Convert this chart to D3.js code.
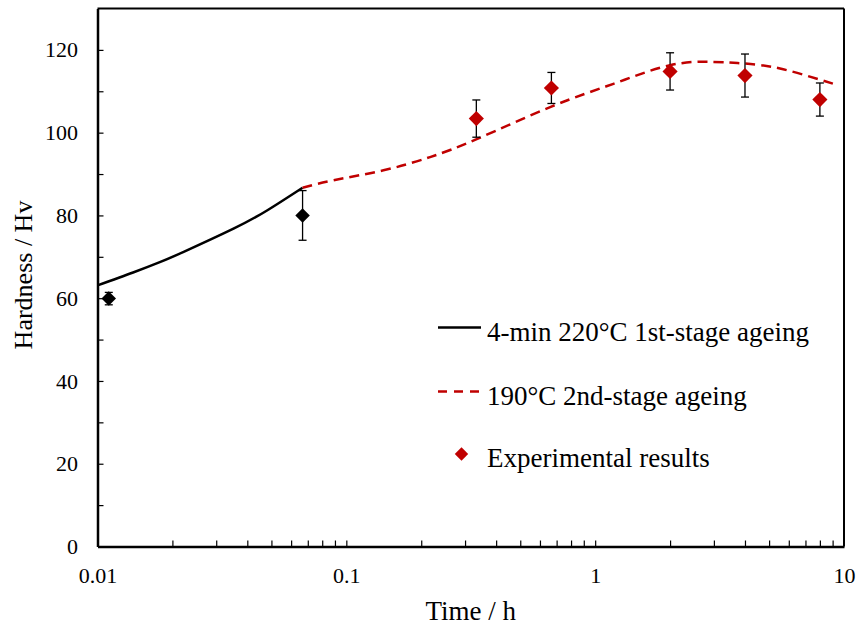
<!DOCTYPE html>
<html>
<head>
<meta charset="utf-8">
<script src="https://cdn.jsdelivr.net/npm/d3@7"></script>
<style>
  html, body { margin: 0; padding: 0; background: #fff; }
  svg { display: block; }
  svg text { font-family: "Liberation Serif" !important; fill: #000; }
</style>
</head>
<body>
<svg id="chart" width="858" height="625"></svg>
<script>
// ---- data ----
const stage1Time = [0.01, 0.0139, 0.0178, 0.0222, 0.0352, 0.048, 0.0667];
const stage1Hv   = [63.1, 66.2, 68.7, 71.2, 76.8, 81.2, 86.7];

const stage2Time = [0.0667, 0.0889, 0.141, 0.217, 0.336, 0.667, 1.184, 2, 2.99, 4, 5.53, 8, 9.06];
const stage2Hv   = [86.7, 88.5, 90.9, 94.1, 98.5, 106.3, 111.8, 116.3, 117.1, 116.7, 115.5, 112.8, 111.8];

const expBlackTime = [0.0111, 0.0667];
const expBlackHv   = [59.9, 80.0];
const expBlackErr  = [1.5, 6.0];

const expRedTime = [0.333, 0.667, 2, 4, 8];
const expRedHv   = [103.4, 110.8, 114.8, 113.8, 108.0];
const expRedErr  = [4.5, 3.75, 4.5, 5.2, 4.0];

const xTickLabels = ["0.01", "0.1", "1", "10"];
const yTickLabels = ["0", "20", "40", "60", "80", "100", "120"];

const legendLabels = ["4-min 220°C 1st-stage ageing", "190°C 2nd-stage ageing", "Experimental results"];

// ---- layout ----
const svg = d3.select("#chart");
const L = 97.5, R = 844, T = 8.5, B = 546.5;
const RED = "#C00000";

const x = d3.scaleLog().domain([0.01, 10]).range([L, R]);
const y = d3.scaleLinear().domain([0, 130]).range([B, T]);

svg.append("rect").attr("width", 858).attr("height", 625).attr("fill", "#fff");

// x axis ticks (1..9 per decade)
const xTicks = [];
[0.01, 0.1, 1].forEach(d => { for (let k = 1; k <= 9; k++) xTicks.push(+(d * k).toPrecision(3)); });
xTicks.push(10);
const xMajor = xTickLabels.map(Number);
const xIdx = d => xMajor.findIndex(m => Math.abs(m - d) < 1e-9);

const xAxis = svg.append("g")
  .attr("transform", `translate(0,${B})`)
  .call(d3.axisBottom(x).tickValues(xTicks).tickSizeInner(-6).tickSizeOuter(0)
    .tickPadding(21)
    .tickFormat(d => xIdx(d) >= 0 ? xTickLabels[xIdx(d)] : ""));
xAxis.select(".domain").attr("stroke", "#000").attr("stroke-width", 2.5);
xAxis.selectAll(".tick line").attr("stroke", "#000").attr("stroke-width", 1.2);
xAxis.selectAll(".tick").filter(d => d === 0.01 || d === 10).select("line").remove();
xAxis.selectAll("text").attr("font-size", 22);

// y axis ticks every 10
const yTicks = d3.range(0, 131, 10);
const yMajor = yTickLabels.map(Number);
const yAxis = svg.append("g")
  .attr("transform", `translate(${L},0)`)
  .call(d3.axisLeft(y).tickValues(yTicks).tickSizeInner(-6).tickSizeOuter(0)
    .tickPadding(19.5)
    .tickFormat(d => yMajor.includes(d) ? yTickLabels[yMajor.indexOf(d)] : ""));
yAxis.select(".domain").attr("stroke", "#000").attr("stroke-width", 2.5);
yAxis.selectAll(".tick line").attr("stroke", "#000").attr("stroke-width", 1.2);
yAxis.selectAll(".tick").filter(d => d === 0 || d === 130).select("line").remove();
yAxis.selectAll("text").attr("font-size", 22);

// top & right frame
svg.append("line").attr("x1", L).attr("x2", R).attr("y1", T).attr("y2", T).attr("stroke", "#000").attr("stroke-width", 1.8);
svg.append("line").attr("x1", R).attr("x2", R).attr("y1", T).attr("y2", B).attr("stroke", "#000").attr("stroke-width", 2);

// axis titles
svg.append("text").attr("x", (L + R) / 2).attr("y", 620).attr("text-anchor", "middle")
  .attr("font-size", 27).text("Time / h");
svg.append("text").attr("transform", `translate(32,275) rotate(-90)`).attr("text-anchor", "middle")
  .attr("font-size", 26).text("Hardness / Hv");

// curves
const line = d3.line().x(d => x(d[0])).y(d => y(d[1])).curve(d3.curveNatural);
svg.append("path").datum(d3.zip(stage1Time, stage1Hv)).attr("d", line)
  .attr("fill", "none").attr("stroke", "#000").attr("stroke-width", 2.5);
svg.append("path").datum(d3.zip(stage2Time, stage2Hv)).attr("d", line)
  .attr("fill", "none").attr("stroke", RED).attr("stroke-width", 2.5).attr("stroke-dasharray", "10,6");

// error bars + diamonds
function drawPoints(times, vals, errs, color, size) {
  const g = svg.append("g");
  times.forEach((t, i) => {
    const cx = x(t);
    g.append("line").attr("x1", cx).attr("x2", cx).attr("y1", y(vals[i] - errs[i])).attr("y2", y(vals[i] + errs[i]))
      .attr("stroke", "#000").attr("stroke-width", 1.3);
    [vals[i] - errs[i], vals[i] + errs[i]].forEach(v => {
      g.append("line").attr("x1", cx - 4).attr("x2", cx + 4).attr("y1", y(v)).attr("y2", y(v))
        .attr("stroke", "#000").attr("stroke-width", 1.3);
    });
  });
  times.forEach((t, i) => {
    g.append("path").attr("d", d3.symbol(d3.symbolSquare, size)())
      .attr("transform", `translate(${x(t)},${y(vals[i])}) rotate(45)`).attr("fill", color);
  });
}
drawPoints(expBlackTime, expBlackHv, expBlackErr, "#000", 105);
drawPoints(expRedTime, expRedHv, expRedErr, RED, 115);

// legend
const lg = svg.append("g");
const legY = [327.5, 391.5, 454];
lg.append("line").attr("x1", 438).attr("x2", 481).attr("y1", legY[0]).attr("y2", legY[0]).attr("stroke", "#000").attr("stroke-width", 2.5);
lg.append("line").attr("x1", 438).attr("x2", 481).attr("y1", legY[1]).attr("y2", legY[1]).attr("stroke", RED).attr("stroke-width", 2.5).attr("stroke-dasharray", "9,7");
lg.append("path").attr("d", d3.symbol(d3.symbolSquare, 90)()).attr("transform", `translate(461.5,${legY[2]}) rotate(45)`).attr("fill", RED);
legendLabels.forEach((s, i) => {
  lg.append("text").attr("x", 487).attr("y", legY[i] + 13).attr("font-size", 27).text(s);
});
</script>
</body>
</html>
